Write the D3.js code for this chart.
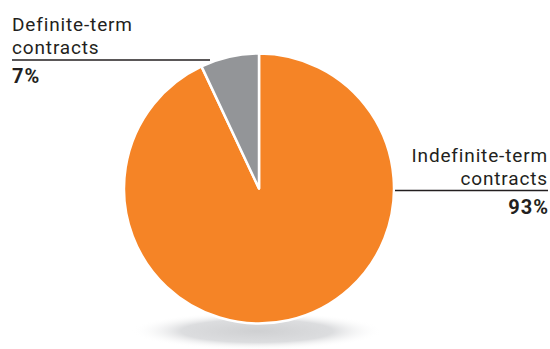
<!DOCTYPE html>
<html>
<head>
<meta charset="utf-8">
<script src="https://cdn.jsdelivr.net/npm/d3@7"></script>
<style>
  html, body { margin: 0; padding: 0; background: #fff; }
  svg { display: block; }
  .lbl { font-family: Roboto, "Open Sans", sans-serif; fill: #231f20; font-size: 19px; letter-spacing: 0.85px; }
  .pct { font-weight: bold; font-size: 20px; letter-spacing: 1px; }
</style>
</head>
<body>
<svg id="chart" width="550" height="349"></svg>
<script>
// ─── Data ───────────────────────────────────────
const categories = ['Indefinite-term contracts', 'Definite-term contracts'];
const values = [93, 7];
const labelLines = [['Indefinite-term', 'contracts'], ['Definite-term', 'contracts']];
const colors = ['#f58426', '#939598'];

const W = 550, H = 349;
const cx = 259, cy = 188.5, R = 135;

const svg = d3.select('#chart');
const defs = svg.append('defs');

// soft shadow under the pie
const grad = defs.append('radialGradient').attr('id', 'shadow');
grad.append('stop').attr('offset', '0%').attr('stop-color', '#cfd0d2');
grad.append('stop').attr('offset', '60%').attr('stop-color', '#dcdddf');
grad.append('stop').attr('offset', '100%').attr('stop-color', '#ffffff').attr('stop-opacity', 0);

svg.append('ellipse')
  .attr('cx', 257).attr('cy', 331)
  .attr('rx', 126).attr('ry', 19)
  .attr('fill', 'url(#shadow)');

// pie
const pie = d3.pie().sort(null).value(d => d);
const arc = d3.arc().innerRadius(0).outerRadius(R);

const g = svg.append('g').attr('transform', `translate(${cx},${cy})`);
g.selectAll('path')
  .data(pie(values))
  .enter().append('path')
  .attr('d', arc)
  .attr('fill', (d, i) => colors[i])
  .attr('stroke', '#fff')
  .attr('stroke-width', 2.5)
  .attr('stroke-linejoin', 'round');

// labels
function label(x, y, anchor, lines, pct, lineX1, lineX2) {
  const t = svg.append('g');
  lines.forEach((s, i) => {
    t.append('text').attr('class', 'lbl')
      .attr('x', x).attr('y', y + i * 23)
      .attr('text-anchor', anchor).text(s);
  });
  const ly = y + (lines.length - 1) * 23 + 6;
  t.append('line')
    .attr('x1', lineX1).attr('x2', lineX2)
    .attr('y1', ly).attr('y2', ly)
    .attr('stroke', '#231f20').attr('stroke-width', 1.3);
  t.append('text').attr('class', 'lbl pct')
    .attr('x', anchor === 'end' ? x + 1 : x).attr('y', ly + 23)
    .attr('text-anchor', anchor).text(pct);
}

label(12, 31, 'start', labelLines[1], values[1] + '%', 12, 210);
label(548, 161.5, 'end', labelLines[0], values[0] + '%', 395, 548);
</script>
</body>
</html>
